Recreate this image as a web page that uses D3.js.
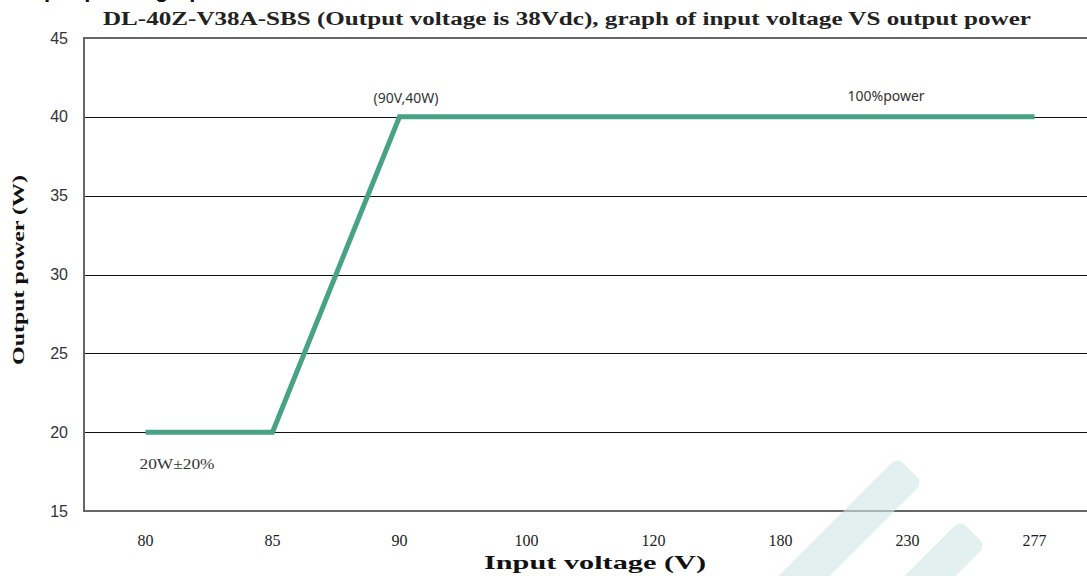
<!DOCTYPE html>
<html><head><meta charset="utf-8">
<script src="https://cdn.jsdelivr.net/npm/d3@7"></script>
<style>body{margin:0;background:#fff;}svg{display:block;}</style>
</head><body>
<svg id="c" width="1087" height="576"></svg>
<script>
const categories = ["80","85","90","100","120","180","230","277"];
const powerValues = [20,20,40,40,40,40,40,40];
const yTicks = [15,20,25,30,35,40,45];
const titleText = "DL-40Z-V38A-SBS (Output voltage is 38Vdc), graph of input voltage VS output power";
const xLabel = "Input voltage (V)";
const yLabel = "Output power (W)";
const annotations = [
  {cat:"90", v:40, text:"(90V,40W)", dx:-26, dy:-14, font:"'Noto Sans', sans-serif", size:14, len:null},
  {cat:"230", v:40, text:"100%power", dx:-60, dy:-16, font:"'Noto Sans', sans-serif", size:14, len:null},
  {cat:"80", v:20, text:"20W±20%", dx:-6, dy:37, font:"'Liberation Serif', serif", size:15, len:75}
];

const svg = d3.select("#c");
const x = d3.scaleBand().domain(categories).range([84, 1100]).padding(0);
const y = d3.scaleLinear().domain([15,45]).range([511, 38]);
const cx = c => x(c) + x.bandwidth()/2 - 2;

// partial cut-off text at top-left (only descenders visible, as in the reference)
svg.append("text").attr("x",6).attr("y",-3).attr("font-family","'Liberation Sans',Arial,sans-serif")
  .attr("font-weight","bold").attr("font-size",22).attr("fill","#111").text("Output power graph");

// title
svg.append("text").attr("x",103).attr("y",25).attr("font-family","'Liberation Serif',serif")
  .attr("font-weight","bold").attr("font-size",18).attr("fill","#222")
  .attr("textLength",928).attr("lengthAdjust","spacingAndGlyphs").text(titleText);

// gridlines
svg.append("g").selectAll("line").data(yTicks.filter(t=>t>15 && t<45)).join("line")
  .attr("x1",84).attr("x2",1087).attr("y1",d=>Math.round(y(d))+0.5).attr("y2",d=>Math.round(y(d))+0.5)
  .attr("stroke","#111").attr("stroke-width",1);

// frame lines (top, left, bottom)
const frame = svg.append("g").attr("stroke","#666").attr("stroke-width",2);
frame.append("line").attr("x1",84).attr("x2",1087).attr("y1",y(45)).attr("y2",y(45));
frame.append("line").attr("x1",84).attr("x2",1087).attr("y1",y(15)).attr("y2",y(15));
frame.append("line").attr("x1",84).attr("x2",84).attr("y1",y(45)-1).attr("y2",y(15)+1);

// y tick labels
svg.append("g").selectAll("text").data(yTicks).join("text")
  .attr("x",68).attr("y",d=>y(d)).attr("dy","0.35em").attr("text-anchor","end")
  .attr("font-family","'Liberation Sans',Arial,sans-serif").attr("font-size",16).attr("fill","#333")
  .text(d=>d);

// x tick labels
svg.append("g").selectAll("text").data(categories).join("text")
  .attr("x",d=>cx(d)).attr("y",540).attr("dy","0.35em").attr("text-anchor","middle")
  .attr("font-family","'Liberation Serif',serif").attr("font-size",16).attr("fill","#222")
  .text(d=>d);

// axis titles
svg.append("text").attr("x",595).attr("y",569).attr("text-anchor","middle")
  .attr("font-family","'Liberation Serif',serif").attr("font-weight","bold").attr("font-size",19)
  .attr("fill","#111").attr("textLength",222).attr("lengthAdjust","spacingAndGlyphs").text(xLabel);
svg.append("text").attr("transform","translate(24,270) rotate(-90)").attr("text-anchor","middle")
  .attr("font-family","'Liberation Serif',serif").attr("font-weight","bold").attr("font-size",17)
  .attr("fill","#111").attr("textLength",190).attr("lengthAdjust","spacingAndGlyphs").text(yLabel);

// line
const line = d3.line().x((d,i)=>cx(categories[i])).y(d=>y(d));
svg.append("path").datum(powerValues).attr("d",line).attr("fill","none")
  .attr("stroke","#48a386").attr("stroke-width",5).attr("stroke-linejoin","miter");

// annotations
const ann = svg.append("g").selectAll("text").data(annotations).join("text")
  .attr("x",d=>cx(d.cat)+d.dx).attr("y",d=>y(d.v)+d.dy)
  .attr("font-family",d=>d.font).attr("font-size",d=>d.size).attr("fill","#333").text(d=>d.text);
ann.filter(d=>d.len).attr("textLength",d=>d.len).attr("lengthAdjust","spacingAndGlyphs");

// watermark
const wm = svg.append("g").attr("fill","#cfe7e7").attr("opacity",0.6);
[[910,470,250],[973,533,130]].forEach(([tx,ty,len])=>{
  wm.append("rect").attr("x",-18).attr("y",0).attr("width",36).attr("height",len).attr("rx",8)
    .attr("transform",`translate(${tx},${ty}) rotate(45)`);
});
</script>
</body></html>
